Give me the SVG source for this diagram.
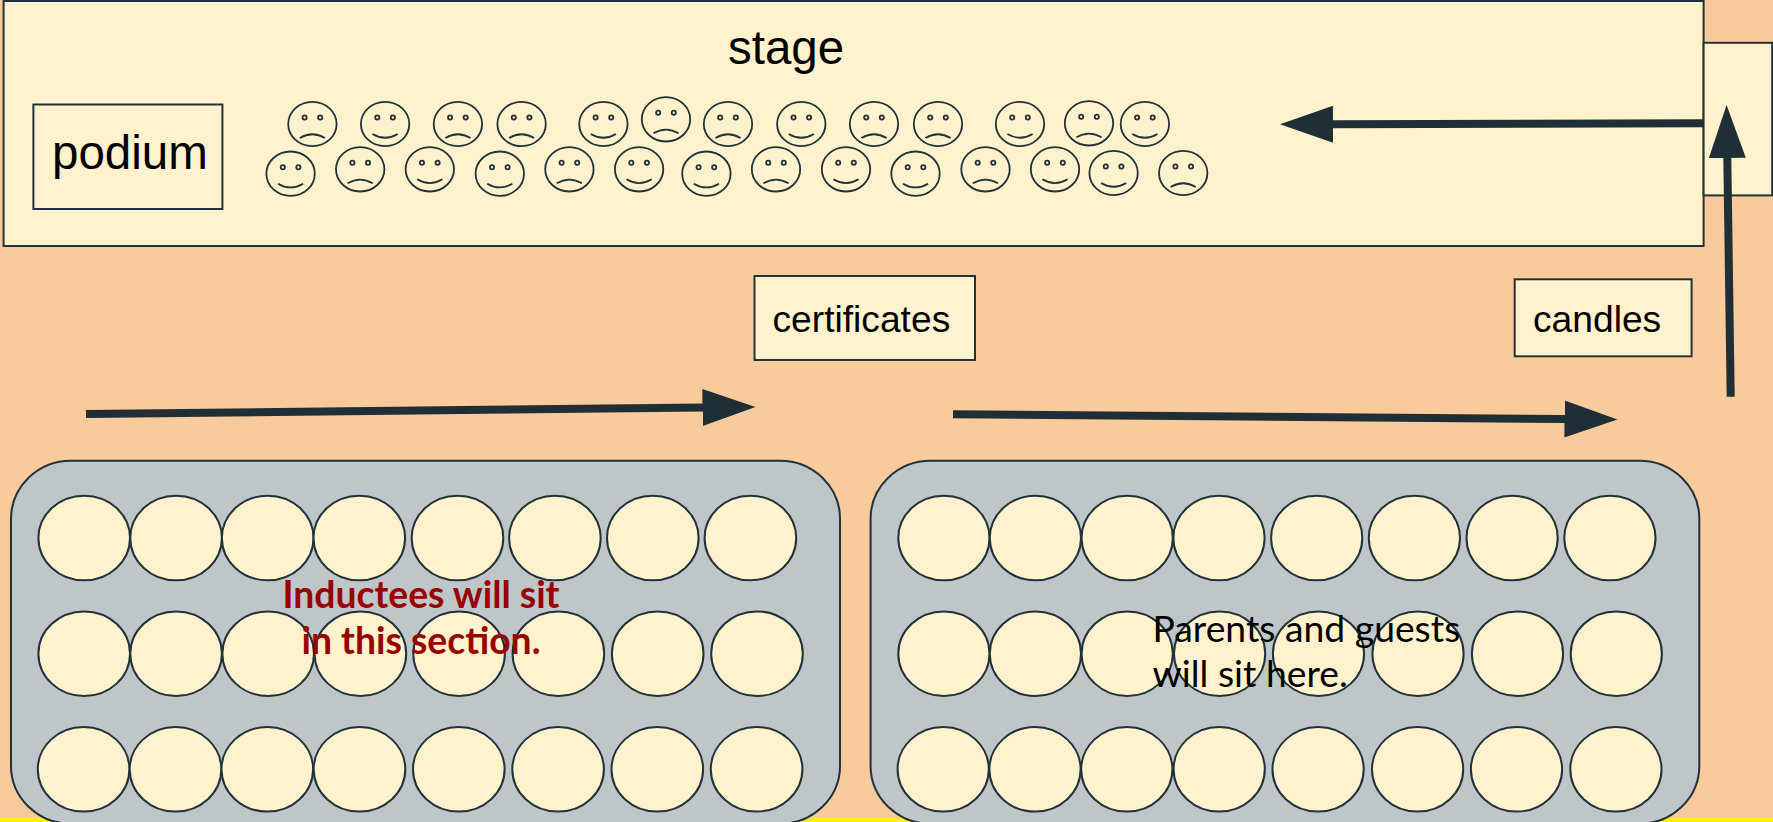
<svg xmlns="http://www.w3.org/2000/svg" width="1773" height="822" viewBox="0 0 1773 822">
<style>
.box{fill:#fff2cc;stroke:#21323a;stroke-width:2}
.section{fill:#bec6ca;stroke:#21323a;stroke-width:2}
.seat{fill:#fff2cc;stroke:#21323a;stroke-width:2}
.arrow{stroke:#1f2f35;stroke-width:8;fill:none}
.face{fill:none;stroke:#21323a;stroke-width:1.8}
.sans{font-family:"Liberation Sans",Arial,sans-serif;fill:#000}
.lato{font-family:Lato,"Liberation Sans",sans-serif;font-size:37.3px}
</style>
<defs>
<marker id="head" markerUnits="userSpaceOnUse" markerWidth="54" markerHeight="38" viewBox="0 0 54 38" refX="1" refY="19" orient="auto"><path d="M0 0.5L53 19L0 37.5Z" fill="#1f2f35"/></marker>
<g id="smile" class="face"><ellipse rx="24.2" ry="22.2"/><circle cx="-7.8" cy="-6.5" r="2.1"/><circle cx="7.8" cy="-6.5" r="2.1"/><path d="M-12.6 10Q0 17.5 12.6 10"/></g>
<g id="frown" class="face"><ellipse rx="24.2" ry="22.2"/><circle cx="-7.8" cy="-6.5" r="2.1"/><circle cx="7.8" cy="-6.5" r="2.1"/><path d="M-12.6 14Q0 6.5 12.6 14"/></g>
</defs>
<rect id="background" width="1773" height="822" fill="#f9cb9c"/>
<rect id="floor-edge" y="817.5" width="1773" height="5" fill="#fbec1e"/>
<g id="stage"><rect class="box" x="3.6" y="1" width="1700" height="245"/><text class="sans" x="728" y="64" font-size="47.5">stage</text></g>
<g id="side-door"><rect class="box" x="1703.6" y="42.8" width="68.6" height="152.6"/></g>
<g id="podium"><rect class="box" x="33.4" y="104.5" width="189" height="104.5"/><text class="sans" x="52" y="169" font-size="47.5">podium</text></g>
<g id="certificates"><rect class="box" x="754.5" y="276" width="220.5" height="84"/><text class="sans" x="772.5" y="332" font-size="37.2">certificates</text></g>
<g id="candles"><rect class="box" x="1514.7" y="279.3" width="176.9" height="77"/><text class="sans" x="1533" y="332" font-size="37.2">candles</text></g>
<g id="inductees">
<use href="#frown" x="312.4" y="124"/><use href="#smile" x="385.1" y="124"/><use href="#frown" x="457.9" y="124"/><use href="#frown" x="521.6" y="124"/><use href="#smile" x="603.4" y="124"/><use href="#frown" x="666" y="119.3"/><use href="#frown" x="728" y="124"/><use href="#smile" x="801.3" y="124"/><use href="#frown" x="874" y="124"/><use href="#frown" x="938" y="124"/><use href="#smile" x="1020" y="124"/><use href="#frown" x="1089" y="123.3"/><use href="#smile" x="1144.9" y="124"/>
<use href="#smile" x="290.6" y="173.7"/><use href="#frown" x="360.2" y="169.3"/><use href="#smile" x="429.8" y="169.3"/><use href="#smile" x="499.8" y="173.7"/><use href="#frown" x="569.4" y="169.3"/><use href="#smile" x="639.1" y="169.3"/><use href="#smile" x="706.4" y="173.7"/><use href="#frown" x="776" y="169.3"/><use href="#smile" x="846" y="169.3"/><use href="#smile" x="915.5" y="173.7"/><use href="#frown" x="985.5" y="169.3"/><use href="#smile" x="1055" y="169.3"/><use href="#smile" x="1113.6" y="173"/><use href="#frown" x="1183.2" y="173"/>
</g>
<g id="section-left">
<rect class="section" x="11" y="460.7" width="829" height="363" rx="60" ry="58"/>
<g>
<ellipse class="seat" cx="84.2" cy="538" rx="45.8" ry="42.3"/><ellipse class="seat" cx="176.1" cy="538" rx="45.8" ry="42.3"/><ellipse class="seat" cx="267.7" cy="538" rx="45.8" ry="42.3"/><ellipse class="seat" cx="359.3" cy="538" rx="45.8" ry="42.3"/><ellipse class="seat" cx="457.5" cy="538" rx="45.8" ry="42.3"/><ellipse class="seat" cx="554.9" cy="538" rx="45.8" ry="42.3"/><ellipse class="seat" cx="652.8" cy="538" rx="45.8" ry="42.3"/><ellipse class="seat" cx="750.4" cy="538" rx="45.8" ry="42.3"/>
<ellipse class="seat" cx="84.2" cy="653.7" rx="45.8" ry="42.3"/><ellipse class="seat" cx="176.1" cy="653.7" rx="45.8" ry="42.3"/><ellipse class="seat" cx="268.2" cy="653.7" rx="45.8" ry="42.3"/><ellipse class="seat" cx="360.4" cy="653.7" rx="45.8" ry="42.3"/><ellipse class="seat" cx="459.1" cy="653.7" rx="45.8" ry="42.3"/><ellipse class="seat" cx="558.4" cy="653.7" rx="45.8" ry="42.3"/><ellipse class="seat" cx="657.7" cy="653.7" rx="45.8" ry="42.3"/><ellipse class="seat" cx="757" cy="653.7" rx="45.8" ry="42.3"/>
<ellipse class="seat" cx="83.6" cy="769.3" rx="45.8" ry="42.3"/><ellipse class="seat" cx="175.5" cy="769.3" rx="45.8" ry="42.3"/><ellipse class="seat" cx="267.3" cy="769.3" rx="45.8" ry="42.3"/><ellipse class="seat" cx="359.5" cy="769.3" rx="45.8" ry="42.3"/><ellipse class="seat" cx="458.8" cy="769.3" rx="45.8" ry="42.3"/><ellipse class="seat" cx="558.1" cy="769.3" rx="45.8" ry="42.3"/><ellipse class="seat" cx="657.3" cy="769.3" rx="45.8" ry="42.3"/><ellipse class="seat" cx="756.6" cy="769.3" rx="45.8" ry="42.3"/>
</g>
<text class="lato" font-weight="700" fill="#990000" text-anchor="middle" x="421" y="608.3">Inductees will sit</text>
<text class="lato" font-weight="700" fill="#990000" text-anchor="middle" x="421" y="653.7">in this section.</text>
</g>
<g id="section-right">
<rect class="section" x="870.6" y="460.7" width="828.7" height="363" rx="60" ry="58"/>
<g>
<ellipse class="seat" cx="943.9" cy="538" rx="45.6" ry="42.3"/><ellipse class="seat" cx="1035.4" cy="538" rx="45.6" ry="42.3"/><ellipse class="seat" cx="1127.2" cy="538" rx="45.6" ry="42.3"/><ellipse class="seat" cx="1219" cy="538" rx="45.6" ry="42.3"/><ellipse class="seat" cx="1316.7" cy="538" rx="45.6" ry="42.3"/><ellipse class="seat" cx="1414.4" cy="538" rx="45.6" ry="42.3"/><ellipse class="seat" cx="1512.1" cy="538" rx="45.6" ry="42.3"/><ellipse class="seat" cx="1609.9" cy="538" rx="45.6" ry="42.3"/>
<ellipse class="seat" cx="943.9" cy="653.7" rx="45.6" ry="42.3"/><ellipse class="seat" cx="1035.4" cy="653.7" rx="45.6" ry="42.3"/><ellipse class="seat" cx="1127.2" cy="653.7" rx="45.6" ry="42.3"/><ellipse class="seat" cx="1219.6" cy="653.7" rx="45.6" ry="42.3"/><ellipse class="seat" cx="1318.5" cy="653.7" rx="45.6" ry="42.3"/><ellipse class="seat" cx="1418" cy="653.7" rx="45.6" ry="42.3"/><ellipse class="seat" cx="1517.5" cy="653.7" rx="45.6" ry="42.3"/><ellipse class="seat" cx="1616.3" cy="653.7" rx="45.6" ry="42.3"/>
<ellipse class="seat" cx="943.2" cy="769.3" rx="45.6" ry="42.3"/><ellipse class="seat" cx="1035" cy="769.3" rx="45.6" ry="42.3"/><ellipse class="seat" cx="1126.8" cy="769.3" rx="45.6" ry="42.3"/><ellipse class="seat" cx="1219.2" cy="769.3" rx="45.6" ry="42.3"/><ellipse class="seat" cx="1318.1" cy="769.3" rx="45.6" ry="42.3"/><ellipse class="seat" cx="1417.6" cy="769.3" rx="45.6" ry="42.3"/><ellipse class="seat" cx="1516.5" cy="769.3" rx="45.6" ry="42.3"/><ellipse class="seat" cx="1615.9" cy="769.3" rx="45.6" ry="42.3"/>
</g>
<text class="lato" fill="#000" x="1152.5" y="642.3">Parents and guests</text>
<text class="lato" fill="#000" x="1152.5" y="687.3">will sit here.</text>
</g>
<g id="connectors">
<line class="arrow" x1="1703.5" y1="123.3" x2="1332" y2="124.2" marker-end="url(#head)"/>
<line class="arrow" x1="1730.7" y1="396.7" x2="1727.3" y2="157" marker-end="url(#head)"/>
<line class="arrow" x1="86" y1="414" x2="703.5" y2="407.5" marker-end="url(#head)"/>
<line class="arrow" x1="953" y1="414.3" x2="1565.5" y2="419" marker-end="url(#head)"/>
</g>
</svg>
